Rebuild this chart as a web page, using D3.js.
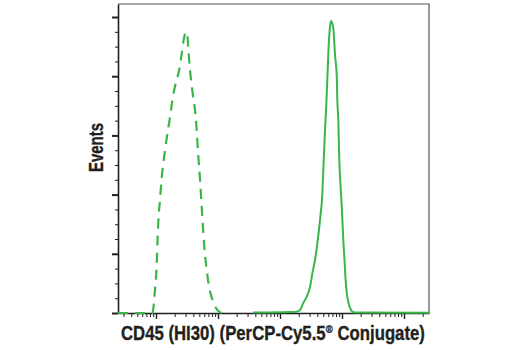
<!DOCTYPE html>
<html>
<head>
<meta charset="utf-8">
<script src="https://cdn.jsdelivr.net/npm/d3@7"></script>
<style>
  html, body { margin: 0; padding: 0; background: #fff; }
  svg { display: block; }
  .lbl { font-family: "Liberation Sans", Arial, Helvetica, sans-serif; font-weight: bold; font-size: 19.5px; fill: #231f20; stroke: #231f20; stroke-width: 0.35px; }
</style>
</head>
<body>
<svg id="chart" width="520" height="350"></svg>
<script>
// Fluorescence intensity (log axis) and event counts for the two histograms
const controlIntensity = [2.44, 4.58, 8.0, 8.78, 9.04, 9.63, 10.3, 10.6, 10.9, 11.6, 12.4, 14.0, 15.8, 16.8, 18.1, 21.0, 23.5, 25.8, 28.3, 30.5,
  32.2, 33.4, 35.3, 37.6, 41.0, 42.6, 45.3, 48.1, 51.3, 54.6, 57.9, 61.7, 65.3, 69.8, 77.1, 84.0, 92.8, 103.8, 116];
const controlEvents = [0, 0, 0, 0, 2.7, 15.5, 33.8, 49.3, 61.5, 76.4, 91.9, 110.1, 125, 131.8, 141.9, 156.1, 163.5, 174.3, 185.8, 189.9,
  186.5, 177.7, 164.2, 154.1, 141.9, 137.2, 123.6, 106.1, 90.5, 71.6, 54.7, 39.2, 30.4, 20.9, 12.2, 7.4, 3.4, 1.0, 0];

const cd45Intensity = [367, 1449, 1858, 2102, 2377, 2697, 3048, 3406, 3670, 4104, 4500, 4811, 5032, 5321, 5626, 5878, 6100, 6332, 6650,
  7080, 7295, 7713, 8217, 8400, 8717, 9043, 9462, 9886, 10490, 10965, 11380, 12040, 12740, 13470, 14330, 16200, 252900];
const cd45Events = [0.3, 0.7, 0.9, 2.0, 6.8, 11.0, 17.6, 29.1, 35.8, 50.7, 66.2, 79.7, 100, 123.6, 143.9, 164.2, 181.1, 191.2, 197.3,
  194.6, 191.2, 174.3, 160.8, 143.9, 130.4, 103.4, 86.5, 73.0, 49.3, 35.8, 23.6, 12.2, 6.8, 3.4, 1.4, 0.3, 0.2];

// Axis extents and tick layout
const xDomain = [2.44, 252900];
const yDomain = [0, 208.8];
const yMinorStep = 10;
const yMajorStep = 40;
const xTitleParts = ["CD45 (HI30) (PerCP-Cy5.5", "\u00AE", " Conjugate)"];
const yTitle = "Events";

const green = "#3ab54a";
const plot = { left: 118, right: 429, top: 4, bottom: 313 };

const svg = d3.select("#chart");
const x = d3.scaleLog().domain(xDomain).range([plot.left, plot.right]);
const y = d3.scaleLinear().domain(yDomain).range([plot.bottom, plot.top]);

// frame: thin top and right edges
svg.append("path")
  .attr("d", `M${plot.left},${plot.top}H${plot.right}V${plot.bottom}`)
  .attr("fill", "none").attr("stroke", "#555").attr("stroke-width", 1.2);

// y axis: minor ticks every 10 events, longer ticks every 40
const yTicks = d3.range(0, yDomain[1] + 0.01, yMinorStep);
const yAxis = d3.axisLeft(y).tickValues(yTicks).tickFormat("").tickSizeOuter(0)
  .tickSizeInner(3);
const gy = svg.append("g").attr("transform", `translate(${plot.left},0)`).call(yAxis);
gy.select(".domain").attr("stroke", "#231f20").attr("stroke-width", 1.6);
gy.selectAll(".tick line")
  .attr("stroke", "#231f20")
  .attr("x2", d => (d % yMajorStep === 0 ? -6 : -3))
  .attr("stroke-width", d => (d % yMajorStep === 0 ? 2 : 1));

// x axis: log decades with intermediate ticks
const xTicks = [];
for (let e = 0; e <= 5; e++) {
  for (let m = 1; m <= 9; m++) {
    const v = m * Math.pow(10, e);
    if (v >= xDomain[0] && v <= xDomain[1]) xTicks.push(v);
  }
}
const isMajor = v => Math.abs(Math.log10(v) - Math.round(Math.log10(v))) < 1e-9;
const xAxis = d3.axisBottom(x).tickValues(xTicks).tickFormat("").tickSizeOuter(0).tickSizeInner(4);
const gx = svg.append("g").attr("transform", `translate(0,${plot.bottom})`).call(xAxis);
gx.select(".domain").attr("stroke", "#231f20").attr("stroke-width", 1.6);
gx.selectAll(".tick line")
  .attr("stroke", "#231f20")
  .attr("y2", d => (isMajor(d) ? 6 : 4))
  .attr("stroke-width", d => (isMajor(d) ? 1.4 : 1));

// histograms
const line = d3.line().curve(d3.curveMonotoneX);

svg.append("path")
  .attr("d", line(controlIntensity.map((v, i) => [x(v), y(controlEvents[i])])))
  .attr("fill", "none").attr("stroke", green).attr("stroke-width", 2.2)
  .attr("stroke-dasharray", "10,7");

svg.append("path")
  .attr("d", line(cd45Intensity.map((v, i) => [x(v), y(cd45Events[i])])))
  .attr("fill", "none").attr("stroke", green).attr("stroke-width", 2);

// x title: three runs (with a raised registered mark), laid out side by side,
// then condensed horizontally to span the plot width
const titleWidth = 304;
const gt = svg.append("g");
const runs = [
  { text: xTitleParts[0], size: 19.5, dy: 0 },
  { text: xTitleParts[1], size: 11, dy: -7 },
  { text: xTitleParts[2], size: 19.5, dy: 0 }
];
let cursor = 0;
runs.forEach(r => {
  const t = gt.append("text").attr("class", "lbl")
    .style("font-size", r.size + "px")
    .attr("x", cursor).attr("y", r.dy)
    .attr("xml:space", "preserve")
    .style("white-space", "pre")
    .text(r.text);
  cursor += t.node().getComputedTextLength();
});
gt.attr("transform", `translate(121,340) scale(${titleWidth / cursor},1)`);

// y title, condensed to the same proportions
const yt = svg.append("text").attr("class", "lbl").text(yTitle);
const yw = yt.node().getComputedTextLength();
yt.attr("transform", `translate(103,172) rotate(-90) scale(${49 / yw},1)`);
</script>
</body>
</html>
